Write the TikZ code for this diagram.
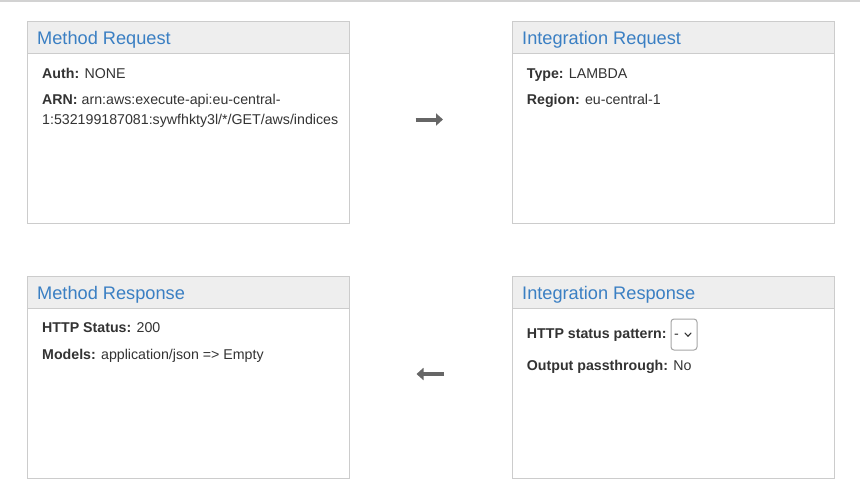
\documentclass[tikz,border=0pt]{standalone}
\usepackage{fontspec}
\setmainfont{Liberation Sans}
\usetikzlibrary{arrows.meta}
\definecolor{bordergray}{HTML}{CCCCCC}
\definecolor{headgray}{HTML}{EEEEEE}
\definecolor{titleblue}{HTML}{3A7FC3}
\definecolor{bodytext}{HTML}{333333}
\definecolor{arrowgray}{HTML}{666666}
\definecolor{topline}{HTML}{D2D2D2}
\tikzset{
  panel/.style={draw=bordergray, line width=1.3pt, fill=white, minimum width=322pt, minimum height=202pt, anchor=north west, inner sep=0pt},
  header/.style={draw=bordergray, line width=1.3pt, fill=headgray, minimum width=322pt, minimum height=32pt, anchor=north west, inner sep=0pt},
  title/.style={anchor=base west, inner sep=0pt, text=titleblue, font=\fontsize{18.2}{20}\selectfont},
  body/.style={anchor=base west, inner sep=0pt, text=bodytext, font=\fontsize{14.2}{20}\selectfont},
  flow/.style={draw=arrowgray, line width=4pt, -{Triangle[length=7pt,width=12pt]}},
  dropdown/.style={draw=gray!70, line width=1pt, rounded corners=3pt, minimum width=26pt, minimum height=31pt, anchor=north west, inner sep=0pt}
}
\begin{document}
\begin{tikzpicture}[x=1pt,y=-1pt]
\useasboundingbox (0,0) rectangle (860,499);
\draw[topline, line width=1.5pt] (0,1) -- (860,1);
% Method Request
\node[panel] (mreq) at (26.5,21) {};
\node[header] (mreqh) at (26.5,21) {};
\node[title] (mreqt) at (37,44.5) {Method Request};
\node[body] (mreq1) at (42,78.7) {\textbf{Auth:} NONE};
\node[body] (mreq2) at (42,104.7) {\textbf{ARN:} arn:aws:execute-api:eu-central-};
\node[body] (mreq3) at (42,124.7) {1:532199187081:sywfhkty3l/*/GET/aws/indices};
% Integration Request
\node[panel] (ireq) at (511.5,21) {};
\node[header] (ireqh) at (511.5,21) {};
\node[title] (ireqt) at (522,44.5) {Integration Request};
\node[body] (ireq1) at (526.7,78.7) {\textbf{Type:} LAMBDA};
\node[body] (ireq2) at (526.7,104.7) {\textbf{Region:} eu-central-1};
% Method Response
\node[panel] (mres) at (26.5,275.5) {};
\node[header] (mresh) at (26.5,275.5) {};
\node[title] (mrest) at (37,299) {Method Response};
\node[body] (mres1) at (42,332.7) {\textbf{HTTP Status:} 200};
\node[body] (mres2) at (42,359.5) {\textbf{Models:} application/json => Empty};
% Integration Response
\node[panel] (ires) at (511.5,275.5) {};
\node[header] (iresh) at (511.5,275.5) {};
\node[title] (irest) at (522,299) {Integration Response};
\node[body] (ires1) at (526.7,338.3) {\textbf{HTTP status pattern:}};
\node[dropdown] (dd) at (670.5,318.5) {};
\node[body] (dddash) at (674,338.3) {-};
\draw[bodytext, line width=1.1pt, line cap=round, line join=round] ([xshift=1pt,yshift=1.5pt]dd.center) -- ([xshift=4pt,yshift=-1.8pt]dd.center) -- ([xshift=7pt,yshift=1.5pt]dd.center);
\node[body] (ires2) at (526.7,370) {\textbf{Output passthrough:} No};
% arrows
\coordinate (a1s) at (415.5,119.5);
\coordinate (a1e) at (443,119.5);
\coordinate (a2s) at (444,374);
\coordinate (a2e) at (416.5,374);
\draw[flow] (a1s) -- (a1e);
\draw[flow] (a2s) -- (a2e);
\end{tikzpicture}
\end{document}
